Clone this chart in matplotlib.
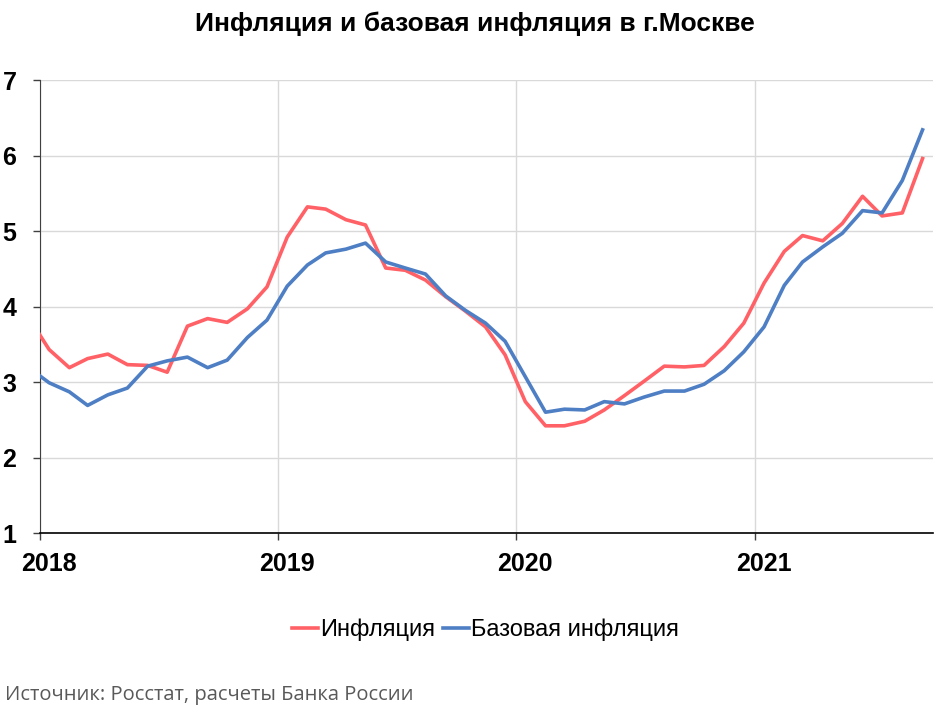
import matplotlib

matplotlib.use("Agg")
import matplotlib.pyplot as plt
import pandas as pd

# monthly values, Dec 2017 .. Sep 2021 (points drawn at mid-month)
MONTH_START = "2017-12-01"
MONTH_END = "2021-09-01"

inflation = [
    3.85,
    3.43, 3.19, 3.31, 3.37, 3.23, 3.22, 3.13, 3.74, 3.84, 3.79, 3.97, 4.26,
    4.92, 5.32, 5.29, 5.15, 5.08, 4.51, 4.48, 4.35, 4.13, 3.94, 3.73, 3.36,
    2.74, 2.42, 2.42, 2.48, 2.63, 2.82, 3.01, 3.21, 3.20, 3.22, 3.47, 3.78,
    4.31, 4.73, 4.94, 4.87, 5.10, 5.46, 5.20, 5.24, 5.96,
]
core_inflation = [
    3.19,
    2.99, 2.87, 2.69, 2.83, 2.92, 3.21, 3.28, 3.33, 3.19, 3.29, 3.59, 3.82,
    4.27, 4.55, 4.71, 4.76, 4.84, 4.59, 4.51, 4.43, 4.14, 3.95, 3.78, 3.54,
    3.07, 2.60, 2.64, 2.63, 2.74, 2.71, 2.80, 2.88, 2.88, 2.97, 3.15, 3.40,
    3.73, 4.28, 4.59, 4.79, 4.97, 5.27, 5.24, 5.67, 6.34,
]

series_labels = ["Инфляция", "Базовая инфляция"]
year_labels = ["2018", "2019", "2020", "2021"]
y_ticks = [1, 2, 3, 4, 5, 6, 7]

TITLE = "Инфляция и базовая инфляция в г.Москве"
SOURCE = "Источник: Росстат, расчеты Банка России"

RED = "#FF6166"
BLUE = "#4E7FC4"
GRID = "#D9D9D9"

plt.rcParams["font.family"] = ["Liberation Sans", "DejaVu Sans"]


def main():
    months = pd.date_range(MONTH_START, MONTH_END, freq="MS") + pd.Timedelta(days=14)
    year_starts = pd.to_datetime([f"{y}-01-01" for y in year_labels])
    label_pos = year_starts + pd.Timedelta(days=14)

    fig = plt.figure(figsize=(9.5, 7.12), dpi=100)
    ax = fig.add_axes([0.0421, 0.2514, 0.94, 0.6362])

    ax.plot(months, inflation, color=RED, lw=2.6, label=series_labels[0],
            solid_joinstyle="round", zorder=3)
    ax.plot(months, core_inflation, color=BLUE, lw=2.6, label=series_labels[1],
            solid_joinstyle="round", zorder=3)

    ax.set_xlim(pd.Timestamp("2018-01-01"), pd.Timestamp("2021-10-01"))
    ax.set_ylim(1, 7)

    # year gridlines / tick marks at Jan 1, labels centred on mid-January
    ax.set_xticks(year_starts)
    ax.set_xticklabels([""] * len(year_starts))
    ax.set_xticks(label_pos, minor=True)
    ax.set_xticklabels(year_labels, minor=True, fontsize=18, fontweight="bold")
    ax.tick_params(axis="x", which="major", length=5, width=1, color="#404040")
    ax.tick_params(axis="x", which="minor", length=0, pad=14)

    ax.set_yticks(y_ticks)
    ax.set_yticklabels([str(v) for v in y_ticks], fontsize=18, fontweight="bold")
    ax.tick_params(axis="y", length=5, width=1, pad=12, color="#404040")

    ax.grid(True, which="major", color=GRID, lw=1)
    ax.set_axisbelow(True)
    for side in ["top", "right"]:
        ax.spines[side].set_visible(False)
    ax.spines["left"].set_color("#404040")
    ax.spines["bottom"].set_color("black")
    ax.spines["bottom"].set_linewidth(1.2)

    fig.text(0.5, 1 - 24 / 712, TITLE, ha="center", va="center",
             fontsize=19, fontweight="bold")

    fig.legend(loc="center", bbox_to_anchor=(0.511, 1 - 630 / 712), ncol=2,
               frameon=False, fontsize=17, handlelength=1.1,
               handletextpad=0.1, columnspacing=0.3)

    fig.text(5 / 950, 1 - 695 / 712, SOURCE, ha="left", va="center",
             fontsize=14.5, color="#595959", family=["Open Sans", "DejaVu Sans"])

    fig.savefig("out.png", dpi=100)
    plt.close(fig)


if __name__ == "__main__":
    main()
